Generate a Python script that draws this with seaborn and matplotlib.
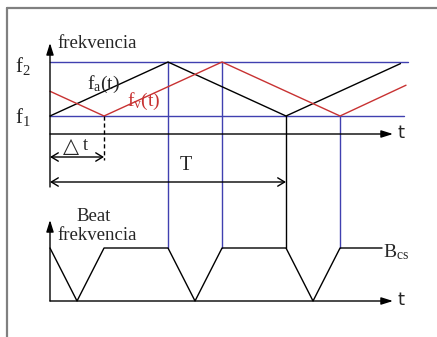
import matplotlib
matplotlib.use("Agg")
import matplotlib.pyplot as plt
import seaborn as sns
import pandas as pd
from matplotlib.lines import Line2D

# ---- data (time in half-periods, frequency normalized f1=0, f2=1) ----
t_a = [0.0, 1.0, 2.0, 2.97]
f_a = [0.0, 1.0, 0.0, 0.97]
t_v = [0.0, 0.458, 1.458, 2.458, 3.017]
f_v = [0.458, 0.0, 1.0, 0.0, 0.57]
t_beat = [0.0, 0.229, 0.458, 1.0, 1.229, 1.458, 2.0, 2.229, 2.458, 2.814]
beat = [1, 0, 1, 1, 0, 1, 1, 0, 1, 1]
delta_t = 0.458
period_T = 2.0
f1, f2 = 0.0, 1.0
blue_vlines_upper = [1.0, 1.458]  # start at f2
blue_vlines_lower = [2.458]       # start at f1
black_vline = [2.0]               # start at f1

sns.set_style("white")
plt.rcParams['font.family'] = ['Liberation Serif', 'DejaVu Sans']
plt.rcParams['mathtext.default'] = 'regular'

W, H = 437, 337
fig = plt.figure(figsize=(W / 100, H / 100), dpi=100)
fig.patch.set_facecolor('white')

BLUE = '#4040b0'
RED = '#c83232'
LW = 1.0

x_px0, x_scale = 50, 118.0
xlim = (-x_px0 / x_scale, (W - x_px0) / x_scale)
# top: f=0 at px 116, 54 px per unit ; bottom: b=0 at px 301, 53 px per unit
ax_t = fig.add_axes([0, 0, 1, 1])
ax_t.set_xlim(*xlim)
ax_t.set_ylim((116 - H) / 54.0, 116 / 54.0)
ax_b = fig.add_axes([0, 0, 1, 1], sharex=ax_t)
ax_b.set_ylim((301 - H) / 53.0, 301 / 53.0)
for ax in (ax_t, ax_b):
    ax.set_axis_off()
    ax.patch.set_alpha(0)

def top_y(px):
    return (116 - px) / 54.0

def bot_y(px):
    return (301 - px) / 53.0

# b=1 level expressed in top-axes coordinates
y_disp = ax_b.transData.transform((0, 1))[1]
b1_in_top = ax_t.transData.inverted().transform((0, y_disp))[1]

# frame
fig.add_artist(Line2D([7 / W, 1], [1 - 8 / H, 1 - 8 / H], color='#808080', lw=1.6))
fig.add_artist(Line2D([7 / W, 7 / W], [0, 1 - 8 / H], color='#808080', lw=1.6))

# horizontal f1/f2 lines
ax_t.plot([0, 3.034], [f2, f2], color=BLUE, lw=LW)
ax_t.plot([0, 3.0], [f1, f1], color=BLUE, lw=LW)

# vertical connectors
for tv in blue_vlines_upper:
    ax_t.plot([tv, tv], [f2, b1_in_top], color=BLUE, lw=LW)
for tv in blue_vlines_lower:
    ax_t.plot([tv, tv], [f1, b1_in_top], color=BLUE, lw=LW)
for tv in black_vline:
    ax_t.plot([tv, tv], [f1, b1_in_top], color='black', lw=LW)

# curves
sns.lineplot(data=pd.DataFrame({'t': t_a, 'f': f_a}), x='t', y='f', ax=ax_t,
             color='black', lw=LW, sort=False, estimator=None)
sns.lineplot(data=pd.DataFrame({'t': t_v, 'f': f_v}), x='t', y='f', ax=ax_t,
             color=RED, lw=LW, sort=False, estimator=None)
sns.lineplot(data=pd.DataFrame({'t': t_beat, 'b': beat}), x='t', y='b', ax=ax_b,
             color='black', lw=LW, sort=False, estimator=None)
ax_t.set_axis_off(); ax_b.set_axis_off()

# axes arrows (top)
t_tip = (393 - x_px0) / x_scale
fill_arrow = dict(arrowstyle='-|>,head_length=0.7,head_width=0.22', color='black',
                  lw=LW, shrinkA=0, shrinkB=0)
ax_t.annotate('', xy=(0, top_y(43)), xytext=(0, top_y(187)), arrowprops=fill_arrow)
ax_t.annotate('', xy=(t_tip, top_y(134)), xytext=(0, top_y(134)), arrowprops=fill_arrow)
# axes arrows (bottom)
ax_b.annotate('', xy=(0, bot_y(220)), xytext=(0, 0), arrowprops=fill_arrow)
ax_b.annotate('', xy=(t_tip, 0), xytext=(0, 0), arrowprops=fill_arrow)

# delta t and T dimension arrows
open_arrow = dict(arrowstyle='<->,head_length=0.5,head_width=0.3', color='black',
                  lw=LW, shrinkA=0, shrinkB=0)
ax_t.plot([delta_t, delta_t], [f1, top_y(160)], color='black', lw=LW, ls=(0, (3, 2)))
ax_t.annotate('', xy=(0, top_y(157)), xytext=(delta_t, top_y(157)), arrowprops=open_arrow)
ax_t.annotate('', xy=(0, top_y(182)), xytext=(period_T, top_y(182)), arrowprops=open_arrow)

FS = 13.5
ax_t.text((71 - x_px0) / x_scale, top_y(146), '△', fontsize=15, ha='center', va='center',
          family=['DejaVu Sans'])
ax_t.text((85 - x_px0) / x_scale, top_y(145), 't', fontsize=FS, ha='center', va='center')
ax_t.text((186 - x_px0) / x_scale, top_y(166), 'T', fontsize=FS + 1, ha='center', va='center')

# labels
ax_t.text((57 - x_px0) / x_scale, top_y(44), 'frekvencia', fontsize=FS, ha='left', va='center')
ax_t.text((15 - x_px0) / x_scale, top_y(66), '$f_2$', fontsize=FS + 1.5, ha='left', va='center')
ax_t.text((15 - x_px0) / x_scale, top_y(117), '$f_1$', fontsize=FS + 1.5, ha='left', va='center')
ax_t.text((87 - x_px0) / x_scale, top_y(84), '$f_a(t)$', fontsize=FS + 0.5, ha='left', va='center')
ax_t.text((127 - x_px0) / x_scale, top_y(101), '$f_v(t)$', fontsize=FS + 0.5, ha='left', va='center',
          color=RED)
ax_t.text((397 - x_px0) / x_scale, top_y(133), 't', fontsize=13, ha='left', va='center',
          family=['DejaVu Sans'])

ax_b.text((94 - x_px0) / x_scale, bot_y(217), 'Beat', fontsize=FS, ha='center', va='center')
ax_b.text((57 - x_px0) / x_scale, bot_y(235), 'frekvencia', fontsize=FS, ha='left', va='center')
ax_b.text((383 - x_px0) / x_scale, bot_y(252), '$B_{cs}$', fontsize=FS + 0.5, ha='left', va='center')
ax_b.text((397 - x_px0) / x_scale, bot_y(300), 't', fontsize=13, ha='left', va='center',
          family=['DejaVu Sans'])

fig.savefig('out.png', dpi=100, facecolor='white')
